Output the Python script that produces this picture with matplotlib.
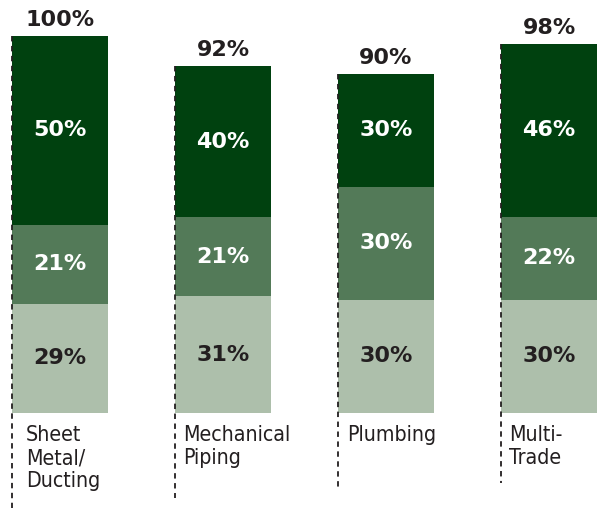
import matplotlib
matplotlib.use("Agg")
import matplotlib.pyplot as plt
import numpy as np

# Trade categories and share of respondents by segment (bottom -> top)
categories = ["Sheet\nMetal/\nDucting", "Mechanical\nPiping", "Plumbing", "Multi-\nTrade"]
bottom_seg = [29, 31, 30, 30]
middle_seg = [21, 21, 30, 22]
top_seg = [50, 40, 30, 46]
totals = ["100%", "92%", "90%", "98%"]

# Styling
seg_colors = ["#adbfab", "#537a58", "#00410f"]
seg_text = ["#231f20", "white", "white"]
ink = "#231f20"
dash_depth = [25.5, 22.5, 19.5, 18.5]   # how far each guide line runs below the baseline
label_pad_px = [14, 8, 9, 8]            # label offset from the guide line, pixels

W, H, DPI = 601, 508, 100
fig = plt.figure(figsize=(W / DPI, H / DPI), dpi=DPI)
px_per_unit = 163.0
base_px = 413.0
y_scale = 3.77
left_px = 12.0
ax = fig.add_axes([0, (H - base_px) / H, 1, 100 * y_scale / H])
ax.set_xlim(-left_px / px_per_unit, (W - left_px) / px_per_unit)
ax.set_ylim(0, 100)
ax.axis("off")

x = np.arange(len(categories))
bar_w = 96 / px_per_unit
pct_font = dict(fontsize=16, fontweight="bold", family="DejaVu Sans")
stacks = [bottom_seg, middle_seg, top_seg]
acc = np.zeros(len(categories))
for vals, col, tcol in zip(stacks, seg_colors, seg_text):
    vals = np.array(vals, dtype=float)
    ax.bar(x, vals, bottom=acc, width=bar_w, align="edge", color=col,
           edgecolor="none", zorder=2)
    for xi, v, b in zip(x, vals, acc):
        ax.text(xi + bar_w / 2, b + v / 2, f"{int(v)}%", ha="center", va="center",
                color=tcol, zorder=4, **pct_font)
    acc = acc + vals

for xi, tot, t, lab, depth, pad in zip(x, acc, totals, categories, dash_depth, label_pad_px):
    ax.plot([xi, xi], [tot, -depth], color=ink, lw=1.3, ls=(0, (3, 2.5)),
            clip_on=False, zorder=3)
    ax.text(xi + bar_w / 2, tot + 10 / y_scale, t, ha="center", va="baseline",
            color=ink, **pct_font)
    ax.text(xi + pad / px_per_unit, -3.3, lab, ha="left", va="top", color=ink,
            fontsize=15.3, family="DejaVu Sans", fontstretch="condensed",
            linespacing=1.18)

fig.savefig("out.png", dpi=DPI)
